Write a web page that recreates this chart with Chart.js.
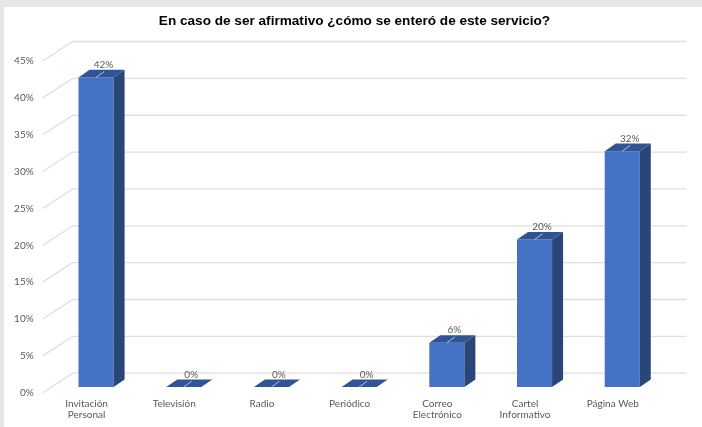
<!DOCTYPE html>
<html lang="es">
<head>
<meta charset="utf-8">
<title>Medio de enterarse del servicio</title>
<script src="https://cdn.jsdelivr.net/npm/chart.js@4/dist/chart.umd.js"></script>
<style>
  html, body { margin: 0; height: 100%; background: #e5e7e9; overflow: hidden; }
  #panel { position: absolute; left: 4px; top: 7px; width: 698px; height: 420px; background: #fff; }
  canvas { display: block; }
</style>
</head>
<body>
<div id="panel"><canvas id="chart" width="698" height="420"></canvas></div>
<script>
const categories = [
  ['Invitación', 'Personal'], 'Televisión', 'Radio', 'Periódico',
  ['Correo', 'Electrónico'], ['Cartel', 'Informativo'], 'Página Web'
];
const percentages = [42, 0, 0, 0, 6, 20, 32];
const yTickStep = 5;
const yMax = 45;

const TITLE = 'En caso de ser afirmativo ¿cómo se enteró de este servicio?';
const FRONT = '#4472c4', TOP = '#2f5597', SIDE = '#2a4679';
const GRID = '#dfdfdf', LABEL = '#595959', LEADER = '#b9c4d6';
const LABEL_FONT = '10px Lato, "Noto Sans", sans-serif';

// Pseudo-3D geometry, in pixels relative to the axis plane.
const WALL = { dx: 30, dy: -19.5 };   // axis plane to back wall
const BAR_SHIFT = { dx: 9.5, dy: -5.7 }; // axis plane to bar front face
const BAR_DEPTH = { dx: 11, dy: -7.6 };  // bar front face to bar back face

const wall3d = {
  id: 'wall3d',
  beforeDatasetsDraw(chart) {
    const { ctx, scales: { y }, chartArea: a } = chart;
    ctx.save();
    ctx.strokeStyle = GRID;
    ctx.lineWidth = 1.3;
    y.ticks.forEach(t => {
      const py = y.getPixelForValue(t.value);
      ctx.beginPath();
      ctx.moveTo(a.left, py);
      ctx.lineTo(a.left + WALL.dx, py + WALL.dy);
      ctx.lineTo(a.right + WALL.dx, py + WALL.dy);
      ctx.stroke();
    });
    ctx.restore();
    // Bars sit inside the box, so the library draws them in a shifted frame.
    ctx.save();
    ctx.translate(BAR_SHIFT.dx, BAR_SHIFT.dy);
  },
  afterDatasetsDraw(chart) {
    const { ctx } = chart;
    const d = BAR_DEPTH;
    chart.getDatasetMeta(0).data.forEach((bar, i) => {
      const half = bar.width / 2;
      const l = bar.x - half, r = bar.x + half, t = bar.y, b = bar.base;
      // Right side face
      ctx.fillStyle = SIDE;
      ctx.beginPath();
      ctx.moveTo(r, t); ctx.lineTo(r + d.dx, t + d.dy);
      ctx.lineTo(r + d.dx, b + d.dy); ctx.lineTo(r, b);
      ctx.closePath(); ctx.fill();
      // Top face
      ctx.fillStyle = TOP;
      ctx.beginPath();
      ctx.moveTo(l, t); ctx.lineTo(r, t);
      ctx.lineTo(r + d.dx, t + d.dy); ctx.lineTo(l + d.dx, t + d.dy);
      ctx.closePath(); ctx.fill();
      // Leader line towards the value label
      ctx.strokeStyle = LEADER;
      ctx.lineWidth = 1;
      ctx.beginPath();
      ctx.moveTo(bar.x, t);
      ctx.lineTo(bar.x + 8, t - 5.8);
      ctx.stroke();
      // Value label
      ctx.fillStyle = LABEL;
      ctx.font = LABEL_FONT;
      ctx.textAlign = 'center';
      ctx.textBaseline = 'middle';
      ctx.fillText(percentages[i] + '%', bar.x + 7.5, t - 12.5);
    });
    ctx.restore();
  }
};

new Chart(document.getElementById('chart'), {
  type: 'bar',
  data: {
    labels: categories,
    datasets: [{
      data: percentages,
      backgroundColor: FRONT,
      borderWidth: 0,
      categoryPercentage: 0.4,
      barPercentage: 1
    }]
  },
  options: {
    responsive: false,
    animation: false,
    layout: { padding: { left: 3, right: 0, top: 0, bottom: 0 } },
    plugins: {
      legend: { display: false },
      tooltip: { enabled: false },
      title: {
        display: true,
        text: TITLE,
        color: '#000',
        font: { family: '"Liberation Sans", Arial, sans-serif', size: 13.6, weight: 'bold', lineHeight: 1.2 },
        padding: { top: 6.5, bottom: 31.2 }
      }
    },
    scales: {
      x: {
        grid: { display: false, drawTicks: false },
        border: { display: false },
        afterFit(s) { s.height = 34.3; },
        ticks: {
          color: LABEL,
          font: { family: 'Lato, "Noto Sans", sans-serif', size: 10, lineHeight: 1.12 },
          padding: 5,
          maxRotation: 0,
          autoSkip: false
        }
      },
      y: {
        min: 0,
        max: yMax,
        grid: { display: false, drawTicks: false },
        border: { display: false },
        afterFit(s) { s.width = 35.7; },
        ticks: {
          stepSize: yTickStep,
          color: LABEL,
          font: { family: 'Lato, "Noto Sans", sans-serif', size: 10 },
          padding: 9,
          callback: v => v + '%'
        }
      },
      // Empty axis that reserves the room the back wall needs on the right.
      wallRoom: {
        position: 'right',
        grid: { display: false, drawTicks: false },
        border: { display: false },
        ticks: { display: false },
        afterFit(s) { s.width = 45.4; }
      }
    }
  },
  plugins: [wall3d]
});
</script>
</body>
</html>
